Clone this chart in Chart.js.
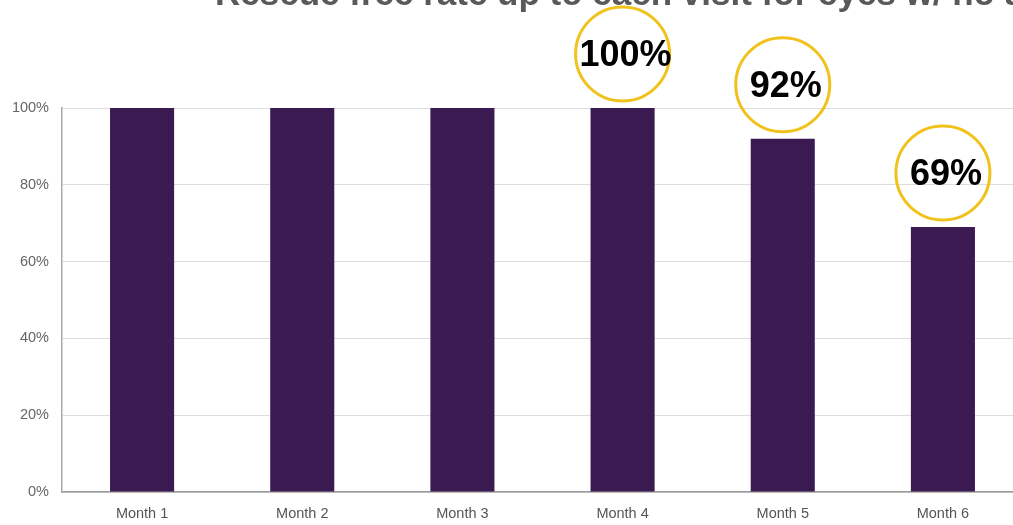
<!DOCTYPE html>
<html>
<head>
<meta charset="utf-8">
<script src="https://cdn.jsdelivr.net/npm/chart.js@4/dist/chart.umd.min.js"></script>
<style>
html,body{margin:0;padding:0;background:#fff;overflow:hidden;width:1013px;height:525px;}
#wrap{position:absolute;left:0;top:0;width:1023px;height:525px;}
</style>
</head>
<body>
<div id="wrap"><canvas id="c"></canvas></div>
<script>
const categories = ['Month 1','Month 2','Month 3','Month 4','Month 5','Month 6'];
const rescueFreeRate = [100, 100, 100, 100, 92, 69];
const highlighted = [3, 4, 5];
const yTicks = [0, 20, 40, 60, 80, 100];
const titleText = 'Rescue free rate up to each visit for eyes w/ no additional treatment';

const circlePlugin = {
  id: 'circles',
  afterDatasetsDraw(chart) {
    const ctx = chart.ctx;
    const xs = chart.scales.x, ys = chart.scales.y;
    ctx.save();
    highlighted.forEach(i => {
      const v = rescueFreeRate[i];
      const cx = xs.getPixelForValue(i);
      const cy = ys.getPixelForValue(v) - 54;
      ctx.beginPath();
      ctx.arc(cx, cy, 47, 0, Math.PI * 2);
      ctx.lineWidth = 3;
      ctx.strokeStyle = '#F1C21B';
      ctx.stroke();
      ctx.fillStyle = '#000';
      ctx.font = 'bold 36px "Liberation Sans", Arial, sans-serif';
      ctx.textAlign = 'center';
      ctx.textBaseline = 'middle';
      ctx.fillText(v + '%', cx + 3, cy + 2);
    });
    ctx.font = 'bold 35px "Liberation Sans", Arial, sans-serif';
    ctx.fillStyle = '#595959';
    ctx.textAlign = 'left';
    ctx.textBaseline = 'alphabetic';
    ctx.fillText(titleText, 215, 5);
    ctx.restore();
  }
};

new Chart(document.getElementById('c'), {
  type: 'bar',
  data: {
    labels: categories,
    datasets: [{
      data: rescueFreeRate,
      backgroundColor: '#3A1A51',
      borderWidth: 0,
      barPercentage: 0.4,
      categoryPercentage: 1.0
    }]
  },
  options: {
    responsive: true,
    maintainAspectRatio: false,
    animation: false,
    layout: { padding: { top: 108, right: 0, bottom: 0, left: 0 } },
    plugins: { legend: { display: false }, tooltip: { enabled: false }, title: { display: false } },
    scales: {
      x: {
        grid: { display: false, drawTicks: false },
        border: { color: '#999', width: 1.5 },
        ticks: { color: '#555', font: { size: 14.5, family: '"Liberation Sans", Arial, sans-serif' }, padding: 13 },
        afterFit(scale) { scale.height = 33; }
      },
      y: {
        min: 0, max: 100,
        afterBuildTicks(scale) { scale.ticks = yTicks.map(v => ({ value: v })); },
        grid: { color: '#DDDDDD', drawTicks: false },
        border: { color: '#AAAAAA', width: 1.5 },
        ticks: { color: '#666', font: { size: 14.5, family: '"Liberation Sans", Arial, sans-serif' }, padding: 13, callback: v => v + '%' },
        afterFit(scale) { scale.width = 62; }
      }
    }
  },
  plugins: [circlePlugin]
});
</script>
</body>
</html>
